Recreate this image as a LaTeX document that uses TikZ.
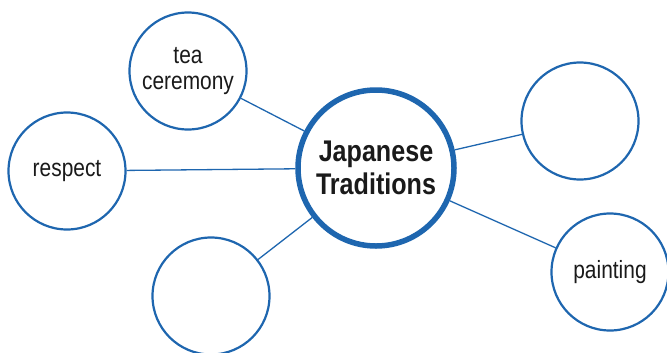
\documentclass[tikz,border=0pt]{standalone}
\usepackage{fontspec}
\setmainfont[FakeStretch=0.84]{Liberation Sans}
\usepackage{xcolor}
\usetikzlibrary{positioning}
\definecolor{rim}{HTML}{1E66AF}
\definecolor{ink}{HTML}{1A1A1A}
\tikzset{
  hub/.style={circle, draw=rim, line width=5.5bp, fill=white, minimum size=156bp,
    align=center, text=ink, font=\bfseries\fontsize{30}{33}\selectfont},
  leaf/.style={circle, draw=rim, line width=2.2bp, fill=white, minimum size=117bp,
    align=center, text=ink, font=\fontsize{25}{27}\selectfont},
  link/.style={draw=rim, line width=1.3bp},
}

\begin{document}
\begin{tikzpicture}[x=1bp, y=-1bp]
  \useasboundingbox (0,0) rectangle (667,352);
  \clip (0,0) rectangle (667,352);
  % hub and the five leaves
  \node[hub] (jt) at (376,168) {Japanese\\Traditions};
  \node[leaf] (tea) at (188,71) {tea\\ceremony};
  \node[leaf] (resp) at (67,171) {respect};
  \node[leaf] (blank1) at (211,296) {};
  \node[leaf] (blank2) at (580,121) {};
  \node[leaf] (paint) at (610,272) {painting};
  % spokes
  \draw[link] (jt) -- (tea);
  \draw[link] (jt) -- (resp);
  \draw[link] (jt) -- (blank1);
  \draw[link] (jt) -- (blank2);
  \draw[link] (jt) -- (paint);
\end{tikzpicture}
\end{document}
